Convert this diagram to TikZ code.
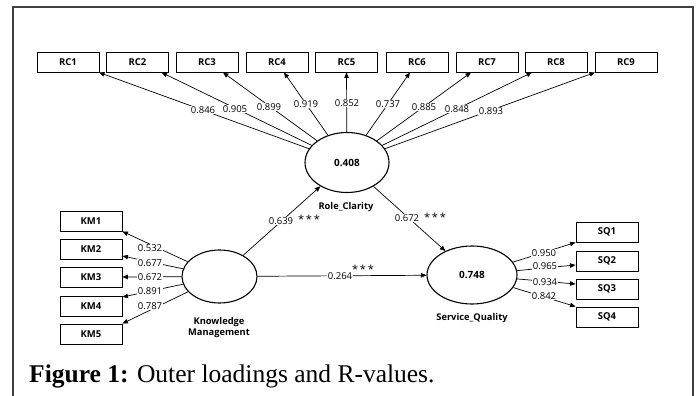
\documentclass[tikz,border=0pt]{standalone}
\usepackage{fontspec}
\setmainfont{Liberation Serif}
\newfontfamily\diag{Open Sans}
\usetikzlibrary{arrows.meta,calc,shapes.geometric}
\tikzset{
  frameline/.style={draw=black!75, line width=1.2pt},
  ind/.style={draw, line width=0.9pt, minimum width=62pt, minimum height=20pt, inner sep=0pt, font=\diag\bfseries\fontsize{9.5}{11}\selectfont},
  lat/.style={draw, ellipse, line width=1.1pt, inner sep=0pt, font=\diag\bfseries\fontsize{10}{11}\selectfont},
  arr/.style={-{Triangle[length=5.5pt,width=4.5pt]}, line width=0.7pt},
  lbl/.style={fill=white, inner sep=0.5pt, font=\diag\fontsize{9.5}{11}\selectfont},
  starlbl/.style={inner sep=0pt, font=\diag\fontsize{11}{12}\selectfont},
  latname/.style={inner sep=0pt, align=center, font=\diag\bfseries\fontsize{9.3}{11.5}\selectfont},
  captxt/.style={inner sep=0pt, font=\fontsize{25.5}{28}\selectfont}
}
\begin{document}
\begin{tikzpicture}[x=1pt,y=-1pt]
\useasboundingbox (0,0) rectangle (699,396);
\draw[frameline] (13,397) -- (13,7) -- (693,7) -- (693,397);

% indicator boxes
\node[ind] (rc1) at (68,62) {RC1};
\node[ind] (rc2) at (137.5,62) {RC2};
\node[ind] (rc3) at (207,62) {RC3};
\node[ind] (rc4) at (277,62) {RC4};
\node[ind] (rc5) at (346.5,62) {RC5};
\node[ind] (rc6) at (417,62) {RC6};
\node[ind] (rc7) at (487,62) {RC7};
\node[ind] (rc8) at (556,62) {RC8};
\node[ind] (rc9) at (626,62) {RC9};

\node[ind] (km1) at (91,221) {KM1};
\node[ind] (km2) at (91,249) {KM2};
\node[ind] (km3) at (91,277) {KM3};
\node[ind] (km4) at (91,306) {KM4};
\node[ind] (km5) at (91,334) {KM5};

\node[ind] (sq1) at (607,232) {SQ1};
\node[ind] (sq2) at (607,261) {SQ2};
\node[ind] (sq3) at (607,289) {SQ3};
\node[ind] (sq4) at (607,317) {SQ4};

% latent variables
\node[lat, minimum width=84pt, minimum height=60pt] (rcl) at (347,162.5) {0.408};
\node[lat, minimum width=75pt, minimum height=53pt] (km) at (219.5,276.5) {};
\node[lat, minimum width=90pt, minimum height=58pt] (sq) at (472,275) {0.748};

\node[latname] (rcln) at (346,207) {Role\_Clarity};
\node[latname] (kmn) at (219,327.5) {Knowledge\\Management};
\node[latname] (sqn) at (472,318) {Service\_Quality};

% outer loadings arrows
\draw[arr] (rcl) -- ([xshift=31pt]rc1.south);
\draw[arr] (rcl) -- ([xshift=24pt]rc2.south);
\draw[arr] (rcl) -- ([xshift=16pt]rc3.south);
\draw[arr] (rcl) -- ([xshift=7pt]rc4.south);
\draw[arr] (rcl) -- (rc5.south);
\draw[arr] (rcl) -- ([xshift=-7pt]rc6.south);
\draw[arr] (rcl) -- ([xshift=-16pt]rc7.south);
\draw[arr] (rcl) -- ([xshift=-24pt]rc8.south);
\draw[arr] (rcl) -- ([xshift=-31pt]rc9.south);

\draw[arr] (km) -- (km1.south east);
\draw[arr] (km) -- ([yshift=-7pt]km2.east);
\draw[arr] (km) -- (km3.east);
\draw[arr] (km) -- ([yshift=9pt]km4.east);
\draw[arr] (km) -- (km5.north east);

\draw[arr] (sq) -- (sq1.south west);
\draw[arr] (sq) -- ([yshift=-4pt]sq2.west);
\draw[arr] (sq) -- ([yshift=5pt]sq3.west);
\draw[arr] (sq) -- (sq4.north west);

% structural paths
\draw[arr] (km) -- (rcl);
\draw[arr] (rcl) -- (sq);
\draw[arr] (km) -- (sq);

% labels
\node[lbl] (l1) at (203,110) {0.846};
\node[lbl] (l2) at (235,109) {0.905};
\node[lbl] (l3) at (269,107) {0.899};
\node[lbl] (l4) at (306,104) {0.919};
\node[lbl] (l5) at (347,103) {0.852};
\node[lbl] (l6) at (388,104) {0.737};
\node[lbl] (l7) at (424,107) {0.885};
\node[lbl] (l8) at (457,109) {0.848};
\node[lbl] (l9) at (491,111) {0.893};

\node[lbl] (k1) at (150,248) {0.532};
\node[lbl] (k2) at (150,263) {0.677};
\node[lbl] (k3) at (150,277) {0.672};
\node[lbl] (k4) at (150,291) {0.891};
\node[lbl] (k5) at (150,306) {0.787};

\node[lbl] (q1) at (544,253) {0.950};
\node[lbl] (q2) at (545,266) {0.965};
\node[lbl] (q3) at (545,282) {0.934};
\node[lbl] (q4) at (544,296) {0.842};

\node[lbl] (p1) at (281,221) {0.639};
\node[starlbl] (p1s) at (309,219) {*\,*\,*};
\node[lbl] (p2) at (407,218) {0.672};
\node[starlbl] (p2s) at (435,217) {*\,*\,*};
\node[lbl] (p3) at (340,276) {0.264};
\node[starlbl] (p3s) at (363,269) {*\,*\,*};

% caption
\node[captxt, anchor=base west] (capt) at (29,382) {\textbf{Figure 1:} Outer loadings and R-values.};
\end{tikzpicture}
\end{document}
